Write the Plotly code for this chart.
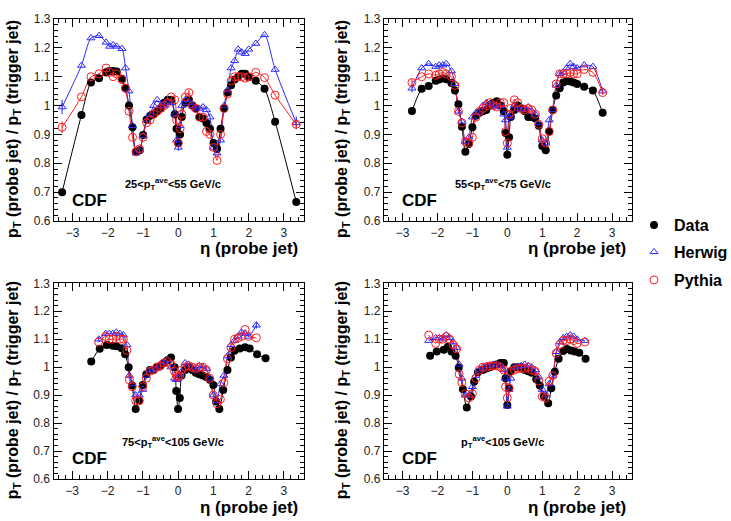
import plotly.graph_objects as go

W, H = 731, 521

# ---------------- data ----------------
# Panel 1: 25 < pT_ave < 55 GeV/c
ETA1 = [-3.3, -2.75, -2.48, -2.25, -2.05, -1.95, -1.85, -1.75, -1.6, -1.5, -1.4, -1.3,
        -1.2, -1.1, -1.0, -0.9, -0.8, -0.7, -0.6, -0.5, -0.4, -0.3, -0.2, -0.1,
        -0.05, 0.0, 0.05, 0.1, 0.2, 0.3, 0.4, 0.5, 0.6, 0.7, 0.8, 0.9,
        1.0, 1.1, 1.2, 1.3, 1.4, 1.5, 1.6, 1.7, 1.8, 1.9, 2.0, 2.2, 2.45, 2.75, 3.35]
DATA1 = [0.70, 0.967, 1.08, 1.095, 1.115, 1.12, 1.12, 1.118, 1.093, 1.061, 1.0, 0.925,
         0.84, 0.845, 0.898, 0.952, 0.965, 0.97, 0.98, 0.99, 1.01, 1.02, 1.02, 0.97,
         0.92, 0.87, 0.90, 0.96, 1.01, 1.02, 1.0, 0.99, 0.96, 0.955, 0.94, 0.92,
         0.87, 0.85, 0.92, 0.99, 1.045, 1.07, 1.09, 1.10, 1.11, 1.11, 1.098, 1.086,
         1.058, 0.944, 0.666]
HERWIG1 = [0.995, 1.139, 1.234, 1.242, 1.219, 1.205, 1.21, 1.205, 1.197, 1.13, 1.05, 0.93,
           0.835, 0.845, 0.895, 0.95, 0.97, 1.0, 1.02, 1.0, 1.0, 1.01, 1.01, 0.97,
           0.88, 0.855, 0.93, 1.0, 1.02, 1.01, 1.0, 0.99, 0.99, 0.995, 0.985, 0.96,
           0.855, 0.835, 0.88, 1.0, 1.054, 1.13, 1.155, 1.195, 1.185, 1.18, 1.195, 1.215,
           1.245, 1.125, 0.94]
PYTHIA1 = [0.925, 1.03, 1.10, 1.11, 1.13, 1.115, 1.10, 1.11, 1.09, 1.06, 0.98, 0.89,
           0.84, 0.85, 0.89, 0.94, 0.95, 0.97, 0.98, 0.99, 1.0, 1.01, 1.03, 1.02,
           0.95, 0.87, 0.92, 0.97, 1.03, 1.045, 1.0, 0.99, 0.96, 0.96, 0.91, 0.90,
           0.855, 0.81, 0.90, 0.99, 1.04, 1.085, 1.10, 1.10, 1.10, 1.095, 1.10, 1.115,
           1.097, 1.036, 0.935]
HERWIG1_ERR = {-3.3: 0.025, 3.35: 0.022, 0.0: 0.012, -0.05: 0.01}
PYTHIA1_ERR = {-3.3: 0.02, 3.35: 0.015, 0.3: 0.01}

# Panel 2: 55 < pT_ave < 75 GeV/c
ETA2 = [-2.73, -2.45, -2.25, -2.05, -1.95, -1.85, -1.75, -1.6, -1.5, -1.4, -1.3, -1.2,
        -1.1, -1.0, -0.9, -0.8, -0.7, -0.6, -0.5, -0.4, -0.3, -0.2, -0.1, -0.05,
        0.0, 0.05, 0.1, 0.2, 0.3, 0.4, 0.5, 0.6, 0.7, 0.8, 0.9, 1.0,
        1.1, 1.2, 1.3, 1.4, 1.5, 1.6, 1.7, 1.8, 1.9, 2.0, 2.2, 2.45, 2.73]
DATA2 = [0.981, 1.058, 1.068, 1.086, 1.09, 1.095, 1.091, 1.078, 1.052, 1.005, 0.927, 0.84,
         0.867, 0.925, 0.965, 0.975, 0.98, 0.985, 1.0, 1.01, 1.015, 1.0, 0.98, 0.905,
         0.83, 0.89, 0.96, 0.985, 1.0, 0.99, 0.98, 0.96, 0.96, 0.955, 0.93, 0.86,
         0.845, 0.91, 0.985, 1.035, 1.06, 1.08, 1.085, 1.083, 1.08, 1.075, 1.065, 1.052, 0.975]
HERWIG2 = [1.06, 1.13, 1.145, 1.135, 1.14, 1.14, 1.145, 1.12, 1.075, 0.98, 0.945, 0.875,
           0.89, 0.96, 0.975, 0.98, 1.0, 1.01, 1.005, 1.0, 0.995, 1.0, 0.97, 0.95,
           0.855, 0.96, 0.97, 1.0, 0.99, 0.985, 0.99, 0.995, 0.98, 0.97, 0.94, 0.88,
           0.87, 0.95, 0.985, 1.07, 1.11, 1.115, 1.13, 1.145, 1.135, 1.13, 1.14, 1.135, 1.05]
PYTHIA2 = [1.08, 1.10, 1.11, 1.105, 1.11, 1.115, 1.11, 1.10, 1.07, 0.98, 0.94, 0.875,
           0.87, 0.89, 0.96, 0.98, 0.99, 1.0, 1.01, 1.0, 0.995, 1.01, 1.01, 0.91,
           0.87, 0.97, 0.99, 1.02, 1.01, 0.99, 0.985, 0.99, 0.985, 0.97, 0.935, 0.885,
           0.87, 0.91, 0.985, 1.075, 1.11, 1.11, 1.11, 1.115, 1.11, 1.11, 1.125, 1.115, 1.045]
HERWIG2_ERR = {-2.73: 0.015, 2.73: 0.01}
PYTHIA2_ERR = {-2.73: 0.012, 2.73: 0.008}

# Panels 3 and 4 share the MC eta binning
ETA_MC = [-2.25, -2.05, -1.95, -1.85, -1.75, -1.65, -1.55, -1.45, -1.38, -1.3, -1.2, -1.1,
          -1.0, -0.9, -0.8, -0.7, -0.6, -0.5, -0.4, -0.3, -0.2, -0.1, -0.05, 0.0,
          0.05, 0.1, 0.2, 0.3, 0.4, 0.5, 0.6, 0.7, 0.8, 0.9, 1.0, 1.1,
          1.2, 1.3, 1.4, 1.5, 1.6, 1.7, 1.8, 1.9, 2.0, 2.22]

# Panel 3: 75 < pT_ave < 105 GeV/c
ETA3 = [-2.46, -2.22, -2.02, -1.85, -1.75, -1.6, -1.5, -1.4, -1.3, -1.2, -1.1, -1.0,
        -0.9, -0.8, -0.7, -0.6, -0.5, -0.4, -0.3, -0.2, -0.1, -0.05, 0.0, 0.05,
        0.1, 0.2, 0.3, 0.4, 0.5, 0.6, 0.7, 0.8, 0.9, 1.0, 1.08, 1.17,
        1.28, 1.4, 1.5, 1.6, 1.75, 1.9, 2.03, 2.24, 2.48]
DATA3 = [1.02, 1.066, 1.079, 1.077, 1.075, 1.068, 1.046, 1.0, 0.934, 0.85, 0.88, 0.936,
         0.975, 0.99, 0.99, 1.0, 1.005, 1.015, 1.025, 1.035, 1.0, 0.915, 0.85, 0.89,
         0.97, 0.99, 1.0, 0.99, 0.98, 0.975, 0.97, 0.965, 0.955, 0.936, 0.877, 0.85,
         0.918, 0.99, 1.035, 1.059, 1.067, 1.071, 1.067, 1.046, 1.032]
HERWIG3 = [1.10, 1.12, 1.12, 1.12, 1.125, 1.12, 1.115, 1.08, 0.97, 0.94, 0.90, 0.90,
           0.92, 0.97, 0.99, 0.99, 0.995, 1.01, 1.02, 1.025, 1.0, 0.96, 0.955, 0.96,
           0.975, 0.985, 1.015, 1.01, 1.0, 0.99, 1.005, 1.0, 0.995, 0.96, 0.90, 0.88,
           0.94, 0.97, 1.04, 1.08, 1.095, 1.11, 1.125, 1.12, 1.11, 1.15]
PYTHIA3 = [1.09, 1.11, 1.10, 1.10, 1.11, 1.10, 1.10, 1.06, 0.955, 0.93, 0.88, 0.88,
           0.93, 0.96, 0.985, 0.99, 1.0, 1.005, 1.015, 1.02, 1.01, 0.985, 0.97, 0.965,
           0.97, 0.99, 1.0, 1.005, 1.0, 0.995, 1.0, 1.0, 0.99, 0.96, 0.90, 0.87,
           0.885, 0.945, 1.03, 1.07, 1.10, 1.105, 1.11, 1.135, 1.11, 1.105]
HERWIG3_ERR = {2.22: 0.012, -2.25: 0.008}
PYTHIA3_ERR = {}

# Panel 4: pT_ave > 105 GeV/c
ETA4 = [-2.21, -2.02, -1.82, -1.7, -1.6, -1.48, -1.39, -1.27, -1.16, -1.04, -0.95, -0.84,
        -0.7, -0.6, -0.5, -0.4, -0.3, -0.2, -0.1, -0.05, 0.0, 0.05, 0.1, 0.2,
        0.3, 0.4, 0.5, 0.6, 0.7, 0.83, 0.93, 1.05, 1.17, 1.26, 1.36, 1.47,
        1.6, 1.71, 1.82, 1.93, 2.06, 2.24]
DATA4 = [1.041, 1.056, 1.062, 1.073, 1.056, 1.041, 0.998, 0.921, 0.856, 0.895, 0.948, 0.982,
         0.99, 0.995, 1.0, 1.005, 1.01, 1.015, 1.015, 0.96, 0.865, 0.925, 0.985, 1.0,
         1.0, 1.0, 0.99, 0.985, 0.98, 0.957, 0.934, 0.895, 0.871, 0.925, 0.984, 1.03,
         1.058, 1.065, 1.06, 1.056, 1.052, 1.03]
HERWIG4 = [1.095, 1.105, 1.105, 1.10, 1.115, 1.105, 1.09, 1.07, 1.01, 0.96, 0.90, 0.90,
           0.93, 0.97, 0.99, 1.0, 1.005, 1.005, 1.01, 1.01, 1.005, 0.99, 0.96, 0.86,
           0.92, 0.96, 1.0, 1.0, 1.005, 1.01, 1.005, 1.0, 0.99, 0.965, 0.92, 0.90,
           0.94, 0.97, 1.055, 1.09, 1.105, 1.11, 1.115, 1.11, 1.10, 1.095]
PYTHIA4 = [1.115, 1.085, 1.10, 1.10, 1.11, 1.10, 1.08, 1.065, 0.975, 0.945, 0.905, 0.89,
           0.905, 0.96, 0.99, 1.0, 1.0, 1.005, 1.005, 1.005, 1.0, 0.99, 0.93, 0.89,
           0.925, 0.985, 0.99, 0.995, 0.995, 0.995, 1.0, 0.99, 0.985, 0.95, 0.895, 0.89,
           0.95, 0.97, 1.05, 1.08, 1.095, 1.095, 1.10, 1.095, 1.085, 1.09]
HERWIG4_ERR = {0.0: 0.01}
PYTHIA4_ERR = {}

PANEL_LABELS = ["25&lt;p<sub>T</sub><sup>ave</sup>&lt;55 GeV/c",
                "55&lt;p<sub>T</sub><sup>ave</sup>&lt;75 GeV/c",
                "75&lt;p<sub>T</sub><sup>ave</sup>&lt;105 GeV/c",
                "p<sub>T</sub><sup>ave</sup>&lt;105 GeV/c"]
SERIES_NAMES = ["Data", "Herwig", "Pythia"]

# ---------------- styling ----------------
BLACK = "#000000"
BLUE = "rgb(40,40,255)"
RED = "rgb(255,30,30)"
FONT = "Liberation Sans, Arial, Helvetica, sans-serif"

panels = [
    dict(eta_d=ETA1, d=DATA1, eta_h=ETA1, h=HERWIG1, eta_p=ETA1, p=PYTHIA1,
         he=HERWIG1_ERR, pe=PYTHIA1_ERR, box=(54, 304, 19, 221)),
    dict(eta_d=ETA2, d=DATA2, eta_h=ETA2, h=HERWIG2, eta_p=ETA2, p=PYTHIA2,
         he=HERWIG2_ERR, pe=PYTHIA2_ERR, box=(384, 632, 19, 221)),
    dict(eta_d=ETA3, d=DATA3, eta_h=ETA_MC, h=HERWIG3, eta_p=ETA_MC, p=PYTHIA3,
         he=HERWIG3_ERR, pe=PYTHIA3_ERR, box=(53.5, 304, 283.3, 479)),
    dict(eta_d=ETA4, d=DATA4, eta_h=ETA_MC, h=HERWIG4, eta_p=ETA_MC, p=PYTHIA4,
         he=HERWIG4_ERR, pe=PYTHIA4_ERR, box=(384, 632, 283.3, 479)),
]

fig = go.Figure()
annotations = []


def px_x(v):
    return v / W


def px_y(v):
    return 1 - v / H


for i, pnl in enumerate(panels):
    n = i + 1
    xa = "x" if n == 1 else f"x{n}"
    ya = "y" if n == 1 else f"y{n}"
    series = [
        (pnl["eta_d"], pnl["d"], BLACK, dict(symbol="circle", size=8, color=BLACK), {}),
        (pnl["eta_h"], pnl["h"], BLUE,
         dict(symbol="triangle-up-open", size=7, color=BLUE, line=dict(width=1, color=BLUE)), pnl["he"]),
        (pnl["eta_p"], pnl["p"], RED,
         dict(symbol="circle-open", size=8, color=RED, line=dict(width=1, color=RED)), pnl["pe"]),
    ]
    # lines first
    for (ex, ey, col, mk, errs) in series:
        fig.add_trace(go.Scatter(x=ex, y=ey, mode="lines", xaxis=xa, yaxis=ya,
                                 line=dict(color=col, width=1, shape="spline", smoothing=0.7),
                                 showlegend=False, hoverinfo="skip"))
    for k, (ex, ey, col, mk, errs) in enumerate(series):
        err = [errs.get(e, 0.0) for e in ex]
        leg = "legend" if k == 0 else f"legend{k + 1}"
        fig.add_trace(go.Scatter(x=ex, y=ey, mode="markers", xaxis=xa, yaxis=ya,
                                 marker=mk,
                                 error_y=dict(type="data", array=err, visible=True,
                                              color=col, thickness=1, width=0),
                                 name=f"<b>{SERIES_NAMES[k]}</b>",
                                 legend=leg, showlegend=(i == 0)))

    x0, x1, y0, y1 = pnl["box"]
    axcommon = dict(showline=True, linecolor="black", linewidth=1.2, mirror="ticks",
                    ticks="inside", ticklen=8, tickcolor="black", showgrid=False,
                    zeroline=False, automargin=False,
                    tickfont=dict(family=FONT, size=12, color="#222"))
    fig.layout[f"xaxis{'' if n == 1 else n}"] = dict(
        domain=[px_x(x0), px_x(x1)], anchor=ya, range=[-3.53, 3.57],
        tickmode="linear", tick0=0, dtick=1,
        minor=dict(ticks="inside", ticklen=4, dtick=0.2, tick0=0, tickcolor="black"),
        **axcommon)
    fig.layout[f"yaxis{'' if n == 1 else n}"] = dict(
        domain=[px_y(y1), px_y(y0)], anchor=xa, range=[0.6, 1.3],
        tickmode="linear", tick0=0.6, dtick=0.1,
        minor=dict(ticks="inside", ticklen=4, dtick=0.02, tick0=0.6, tickcolor="black"),
        **axcommon)

    # axis titles
    left_title_x = 13 if i % 2 == 0 else 342
    annotations.append(dict(
        text="<b>p<sub>T</sub> (probe jet) / p<sub>T</sub> (trigger jet)</b>",
        x=px_x(left_title_x), y=px_y((y0 + y1) / 2 + 9), xref="paper", yref="paper",
        textangle=-90, showarrow=False, xanchor="center", yanchor="middle",
        font=dict(family=FONT, size=16, color="black")))
    annotations.append(dict(
        text="<b>η (probe jet)</b>",
        x=px_x(x1 - 4), y=px_y(y1 + 28), xref="paper", yref="paper",
        showarrow=False, xanchor="right", yanchor="middle",
        font=dict(family=FONT, size=17, color="black")))
    # CDF label
    annotations.append(dict(
        text="<b>CDF</b>", x=px_x(x0 + 16), y=px_y(y1 - 21), xref="paper", yref="paper",
        showarrow=False, xanchor="left", yanchor="middle",
        font=dict(family=FONT, size=17, color="black")))
    # pT range label
    annotations.append(dict(
        text=f"<b>{PANEL_LABELS[i]}</b>", x=px_x(x0 + 119), y=px_y(y1 - 37),
        xref="paper", yref="paper", showarrow=False, xanchor="center", yanchor="middle",
        font=dict(family=FONT, size=11, color="black")))

legend_common = dict(xanchor="left", yanchor="middle", bgcolor="rgba(0,0,0,0)",
                     font=dict(family=FONT, size=16, color="black"), itemwidth=30,
                     borderwidth=0)
fig.update_layout(
    width=W, height=H, margin=dict(l=0, r=0, t=0, b=0, pad=0, autoexpand=False),
    paper_bgcolor="white", plot_bgcolor="white",
    annotations=annotations,
    legend=dict(x=px_x(634), y=px_y(225), **legend_common),
    legend2=dict(x=px_x(634), y=px_y(252), **legend_common),
    legend3=dict(x=px_x(634), y=px_y(280), **legend_common),
)

# remove the browser's default 8px body margin so the figure fills the window
fig.write_html("out.html", config={"displayModeBar": False},
               post_script="document.body.style.margin='0';document.body.style.overflow='hidden';")
